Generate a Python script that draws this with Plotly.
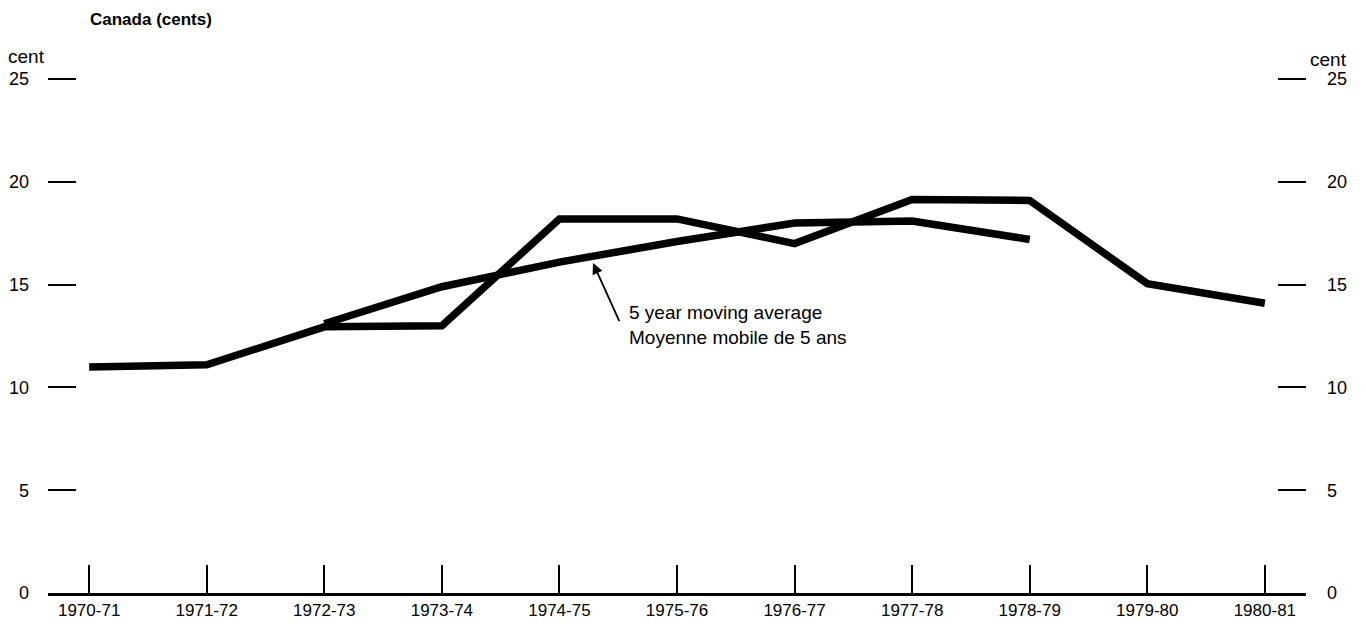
import plotly.graph_objects as go

# data
years = ["1970-71", "1971-72", "1972-73", "1973-74", "1974-75", "1975-76",
         "1976-77", "1977-78", "1978-79", "1979-80", "1980-81"]
cents = [11.0, 11.1, 12.95, 13.0, 18.2, 18.2, 17.0, 19.15, 19.1, 15.05, 14.1]
ma_years = ["1972-73", "1973-74", "1974-75", "1975-76", "1976-77", "1977-78", "1978-79"]
ma_cents = [13.1, 14.9, 16.1, 17.1, 18.0, 18.1, 17.2]
y_ticks = [0, 5, 10, 15, 20, 25]

pos = {y: i for i, y in enumerate(years)}
font = "Liberation Sans, Arial, sans-serif"

fig = go.Figure()
fig.add_trace(go.Scatter(x=[pos[y] for y in years], y=cents, mode="lines",
                         line=dict(color="black", width=7.5), hoverinfo="none", showlegend=False))
fig.add_trace(go.Scatter(x=[pos[y] for y in ma_years], y=ma_cents, mode="lines",
                         line=dict(color="black", width=7.5), hoverinfo="none", showlegend=False))
# dummy trace so the right axis is drawn
fig.add_trace(go.Scatter(x=[0], y=[0], yaxis="y2", mode="markers", opacity=0,
                         hoverinfo="none", showlegend=False))

annots = []
annots.append(dict(x=0.0318, xref="paper", y=1.103, yref="paper", text="<b>Canada (cents)</b>",
                   showarrow=False, xanchor="left", yanchor="middle", font=dict(size=17)))
annots.append(dict(x=-0.0334, xref="paper", y=1.0323, yref="paper", text="cent",
                   showarrow=False, xanchor="left", yanchor="middle", font=dict(size=19)))
annots.append(dict(x=1.0016, xref="paper", y=1.0265, yref="paper", text="cent",
                   showarrow=False, xanchor="left", yanchor="middle", font=dict(size=19)))
# arrow to moving average
annots.append(dict(x=4.286, y=16.05, ax=4.515, ay=13.15, xref="x", yref="y", axref="x", ayref="y",
                   text="", showarrow=True, arrowhead=2, arrowsize=1.2, arrowwidth=1.8, arrowcolor="black"))
annots.append(dict(x=4.575, y=13.05, xref="x", yref="y",
                   text="5 year moving average<br>Moyenne mobile de 5 ans",
                   showarrow=False, xanchor="left", yanchor="middle", align="left",
                   font=dict(size=19)))

fig.update_layout(
    width=1350, height=613, autosize=False,
    margin=dict(l=40, r=52, t=65, b=28),
    paper_bgcolor="white", plot_bgcolor="white",
    font=dict(family=font, size=18, color="black"),
    annotations=annots,
    xaxis=dict(range=[-0.35, 10.35], tickvals=list(range(len(years))), ticktext=years,
               ticks="inside", ticklen=28, tickwidth=2, tickcolor="black",
               showline=True, linewidth=3, linecolor="black", showgrid=False, zeroline=False,
               tickfont=dict(size=17), ticklabelstandoff=0, automargin=False),
    yaxis=dict(range=[0, 25.3], tickvals=y_ticks, ticks="inside", ticklen=28, tickwidth=2,
               tickcolor="black", showline=False, showgrid=False, zeroline=False,
               ticklabelstandoff=18, automargin=False),
    yaxis2=dict(range=[0, 25.3], tickvals=y_ticks, ticks="inside", ticklen=28, tickwidth=2,
                tickcolor="black", showline=False, showgrid=False, zeroline=False,
                overlaying="y", side="right", ticklabelstandoff=20, automargin=False),
)

fig.write_html("out.html")
